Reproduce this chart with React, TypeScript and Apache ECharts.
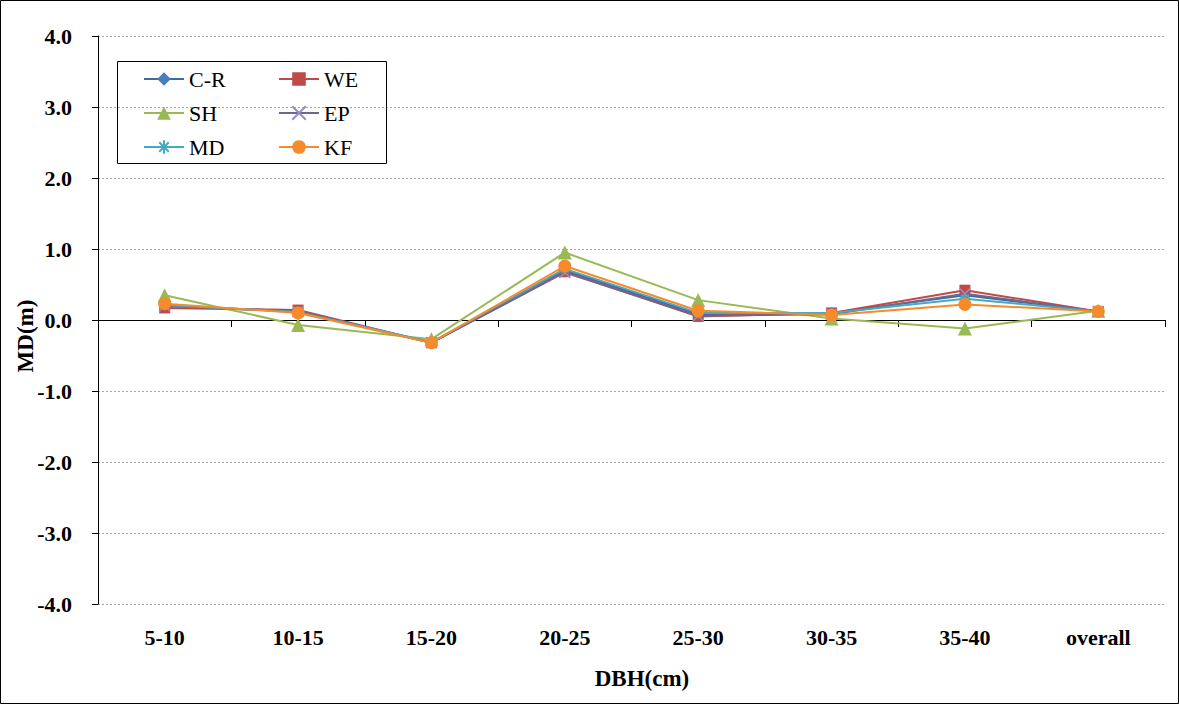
import React, { useEffect, useRef } from "react";
import * as echarts from "echarts";

const categories = ["5-10", "10-15", "15-20", "20-25", "25-30", "30-35", "35-40", "overall"];
const seriesNames = ["C-R", "WE", "SH", "EP", "MD", "KF"];
const crValues = [0.2, 0.12, -0.32, 0.7, 0.08, 0.1, 0.35, 0.12];
const weValues = [0.17, 0.14, -0.32, 0.68, 0.05, 0.1, 0.42, 0.12];
const shValues = [0.35, -0.07, -0.27, 0.95, 0.28, 0.02, -0.12, 0.13];
const epValues = [0.2, 0.12, -0.32, 0.67, 0.06, 0.08, 0.37, 0.12];
const mdValues = [0.21, 0.11, -0.31, 0.72, 0.1, 0.1, 0.3, 0.12];
const kfValues = [0.23, 0.1, -0.32, 0.76, 0.13, 0.07, 0.22, 0.12];
const yTicks = { min: -4, max: 4, interval: 1 };
const xTitle = "DBH(cm)";
const yTitle = "MD(m)";

const colors = ["#41699E", "#BE4B48", "#98B954", "#6F6690", "#46AAC5", "#F68B2C"];
const symbols = [
  "diamond",
  "rect",
  "triangle",
  "path://M0,0L10,10M10,0L0,10",
  "path://M5,0L5,10M0,5L10,5M1.5,1.5L8.5,8.5M8.5,1.5L1.5,8.5",
  "circle",
];
const symbolSizes = [12, 11, 14, 11, 11, 13];
const allValues = [crValues, weValues, shValues, epValues, mdValues, kfValues];

const FONT = "'Liberation Serif', 'Times New Roman', serif";

export default function App() {
  const ref = useRef<HTMLDivElement>(null);
  useEffect(() => {
    document.body.style.margin = "0";
    const chart = echarts.init(ref.current!, null, { renderer: "svg" });
    const series = seriesNames.map((name, i) => {
      const isStroke = i === 3 || i === 4;
      return {
        name,
        type: "line",
        data: allValues[i],
        xAxisIndex: 0,
        yAxisIndex: 0,
        symbol: symbols[i],
        symbolSize: symbolSizes[i],
        showAllSymbol: true,
        lineStyle: { color: colors[i], width: 2 },
        itemStyle: isStroke
          ? { color: colors[i], borderColor: i === 3 ? "#9A8CC4" : colors[i], borderWidth: 1.5 }
          : { color: i === 0 ? "#4A7EBB" : colors[i], borderColor: colors[i], borderWidth: 0 },
        z: 3 + i,
      };
    });
    const legendCommon = {
      orient: "vertical",
      itemWidth: 40,
      itemHeight: 17,
      itemGap: 12,
      padding: 0,
      textStyle: { fontFamily: FONT, fontSize: 22, color: "#000" },
    };
    chart.setOption({
      animation: false,
      backgroundColor: "#fff",
      grid: { left: 98, right: 14, top: 36, bottom: 100, containLabel: false },
      legend: [
        { ...legendCommon, data: ["C-R", "SH", "MD"], left: 143, top: 68 },
        { ...legendCommon, data: ["WE", "EP", "KF"], left: 278, top: 68 },
      ],
      xAxis: [
        {
          type: "category",
          data: categories,
          position: "bottom",
          boundaryGap: true,
          axisLine: { show: false, onZero: false },
          axisTick: { show: false },
          axisLabel: {
            fontFamily: FONT,
            fontSize: 22,
            fontWeight: "bold",
            color: "#000",
            margin: 22,
          },
        },
        {
          type: "category",
          data: categories,
          boundaryGap: true,
          axisLine: { show: true, onZero: true, lineStyle: { color: "#000", width: 1 } },
          axisTick: { show: true, inside: true, length: 7, lineStyle: { color: "#000" } },
          axisLabel: { show: false },
          splitLine: { show: false },
        },
      ],
      yAxis: {
        type: "value",
        min: yTicks.min,
        max: yTicks.max,
        interval: yTicks.interval,
        axisLine: { show: true, lineStyle: { color: "#000", width: 1 } },
        axisTick: { show: true, length: 6, lineStyle: { color: "#000" } },
        axisLabel: {
          fontFamily: FONT,
          fontSize: 22,
          fontWeight: "bold",
          color: "#000",
          margin: 26,
          formatter: (v: number) => v.toFixed(1),
        },
        splitLine: { show: true, lineStyle: { color: "#A6A6A6", type: [2, 2], width: 1 } },
      },
      graphic: [
        {
          type: "rect",
          shape: { x: 0.5, y: 0.5, width: 1178, height: 703 },
          style: { fill: "none", stroke: "#000", lineWidth: 1 },
          silent: true,
        },
        {
          type: "rect",
          shape: { x: 117.5, y: 61.5, width: 269, height: 102 },
          style: { fill: "none", stroke: "#000", lineWidth: 1 },
          silent: true,
          z: 10,
        },
        {
          type: "text",
          x: 642,
          y: 678,
          style: {
            text: xTitle,
            font: `bold 23px ${FONT}`,
            fill: "#000",
            align: "center",
            verticalAlign: "middle",
          },
        },
        {
          type: "text",
          x: 25,
          y: 336,
          rotation: Math.PI / 2,
          style: {
            text: yTitle,
            font: `bold 23px ${FONT}`,
            fill: "#000",
            align: "center",
            verticalAlign: "middle",
          },
        },
      ],
      series,
    });
    return () => chart.dispose();
  }, []);
  return <div ref={ref} style={{ width: 1179, height: 704 }} />;
}
